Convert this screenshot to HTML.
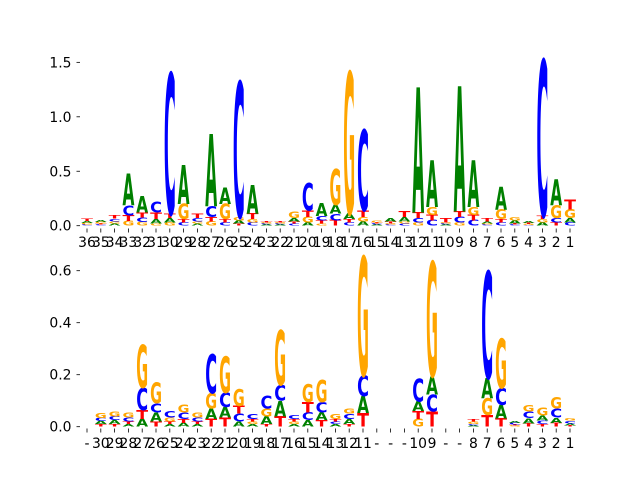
<!DOCTYPE html>
<html><head><meta charset="utf-8"><style>
body{margin:0;background:#fff}
svg{display:block;font-family:"DejaVu Sans","Liberation Sans",sans-serif}
</style></head><body>
<svg id="chart" width="640" height="480" viewBox="0 0 640 480" xmlns="http://www.w3.org/2000/svg">
<g id="top"></g>
<g id="bot"></g>
</svg>
<script>
const topLabels=["36","35","34","33","32","31","30","29","28","27","26","25","24","23","22","21","20","19","18","17","16","15","14","13","12","11","10","9","8","7","6","5","4","3","2","1"];
const topA=[.02,.02,.02,.29,.15,.04,.04,.36,.02,.66,.15,.03,.26,.01,.01,.03,.03,.12,.08,.05,.04,.01,.03,.04,1.15,.43,.01,1.15,.43,.02,.21,.03,.02,.03,.24,.04];
const topC=[.01,.01,.025,.09,.04,.10,1.29,.03,.03,.10,.03,1.24,.03,.01,.01,.02,.25,.04,.06,.03,.74,.01,.01,.02,.04,.05,.01,.05,.05,.01,.03,.01,.005,1.43,.04,.03];
const topG=[.015,.015,.02,.045,.035,.02,.03,.14,.02,.04,.14,.03,.03,.01,.01,.06,.05,.02,.33,1.3,.04,.015,.01,.02,.03,.07,.01,.03,.07,.01,.09,.03,.01,.03,.12,.08];
const topT=[.025,.01,.03,.05,.045,.06,.04,.03,.04,.04,.03,.02,.05,.01,.01,.02,.06,.03,.05,.03,.06,.01,.02,.05,.05,.05,.04,.05,.05,.03,.03,.01,.01,.03,.03,.09];
const topTicks=[0,0.5,1.0,1.5];
const topTickLabels=["0.0","0.5","1.0","1.5"];

const botLabels=["-","30","29","28","27","26","25","24","23","22","21","20","19","18","17","16","15","14","13","12","11","-","-","-","10","9","-","-","8","7","6","5","4","3","2","1"];
const botA=[0,.012,.015,.01,.03,.035,.01,.015,.01,.04,.04,.02,.01,.03,.06,.01,.025,.03,.01,.02,.065,0,0,0,.036,.071,0,0,.005,.077,.052,.008,.02,.02,.02,.008];
const botC=[0,.012,.015,.015,.085,.035,.025,.025,.015,.15,.055,.03,.02,.05,.06,.015,.03,.04,.01,.02,.08,0,0,0,.087,.065,0,0,.005,.41,.065,.006,.026,.013,.035,.01];
const botG=[0,.02,.02,.02,.165,.08,.015,.03,.02,.06,.14,.065,.01,.03,.21,.01,.07,.085,.02,.02,.457,0,0,0,.03,.44,0,0,.01,.065,.19,.004,.026,.03,.045,.01];
const botT=[0,.01,.01,.01,.035,.02,.01,.015,.01,.03,.035,.03,.01,.01,.04,.01,.04,.025,.01,.01,.052,0,0,0,.031,.058,0,0,.01,.045,.032,.004,.013,.01,.015,.005];
const botTicks=[0,0.2,0.4,0.6];
const botTickLabels=["0.0","0.2","0.4","0.6"];

const NS="http://www.w3.org/2000/svg";
const COLORS={A:"#008000",C:"#0000ff",G:"#ffa500",T:"#ff0000"};
function mk(tag,attrs,parent){const e=document.createElementNS(NS,tag);for(const k in attrs)e.setAttribute(k,attrs[k]);parent.appendChild(e);return e;}

function drawPanel(g,labels,A,C,G,T,ticks,tickLabels,cfg){
  const x0=87,step=(570-87)/35;
  const xs=i=>x0+i*step;
  const ys=v=>cfg.base-v*cfg.k;
  const w=step*0.86;
  ticks.forEach((t,i)=>{
    const tk=mk("line",{x1:76.5,x2:80,y1:ys(t),y2:ys(t),stroke:"#000","stroke-width":0.8},g);
    
    
    const tl=mk("text",{x:71.5,y:ys(t)+5,"text-anchor":"end","font-size":"13.9",fill:"#000"},g);
    tl.textContent=tickLabels[i];
    
    
  });
  labels.forEach((lab,i)=>{
    const x=xs(i);
    const tk=mk("line",{x1:x,x2:x,y1:cfg.axisBottom,y2:cfg.axisBottom+4,stroke:"#000","stroke-width":0.8},g);
    
    
    const tl=mk("text",{x:x,y:cfg.labelY,"text-anchor":"middle","font-size":"13.9",fill:"#000"},g);
    tl.textContent=lab;
    
    
    const stack=[["A",A[i]],["C",C[i]],["G",G[i]],["T",T[i]]].filter(d=>d[1]>0).sort((a,b)=>a[1]-b[1]);
    let cum=0;
    stack.forEach(([ch,v])=>{
      const yb=ys(cum), h=v*cfg.k;
      cum+=v;
      const t=mk("text",{x:0,y:0,"font-size":"100","font-weight":"bold",fill:COLORS[ch],
        textLength:w,lengthAdjust:"spacingAndGlyphs",
        transform:`translate(${x-w/2},${yb}) scale(1,${h/72.9})`},g);
      t.textContent=ch;
      
      
    });
  });
}
drawPanel(document.getElementById("top"),topLabels,topA,topC,topG,topT,topTicks,topTickLabels,{base:225.7,k:108.9,axisBottom:228.5,labelY:247});
drawPanel(document.getElementById("bot"),botLabels,botA,botC,botG,botT,botTicks,botTickLabels,{base:426.7,k:260,axisBottom:428.5,labelY:448});
</script>
</body></html>
